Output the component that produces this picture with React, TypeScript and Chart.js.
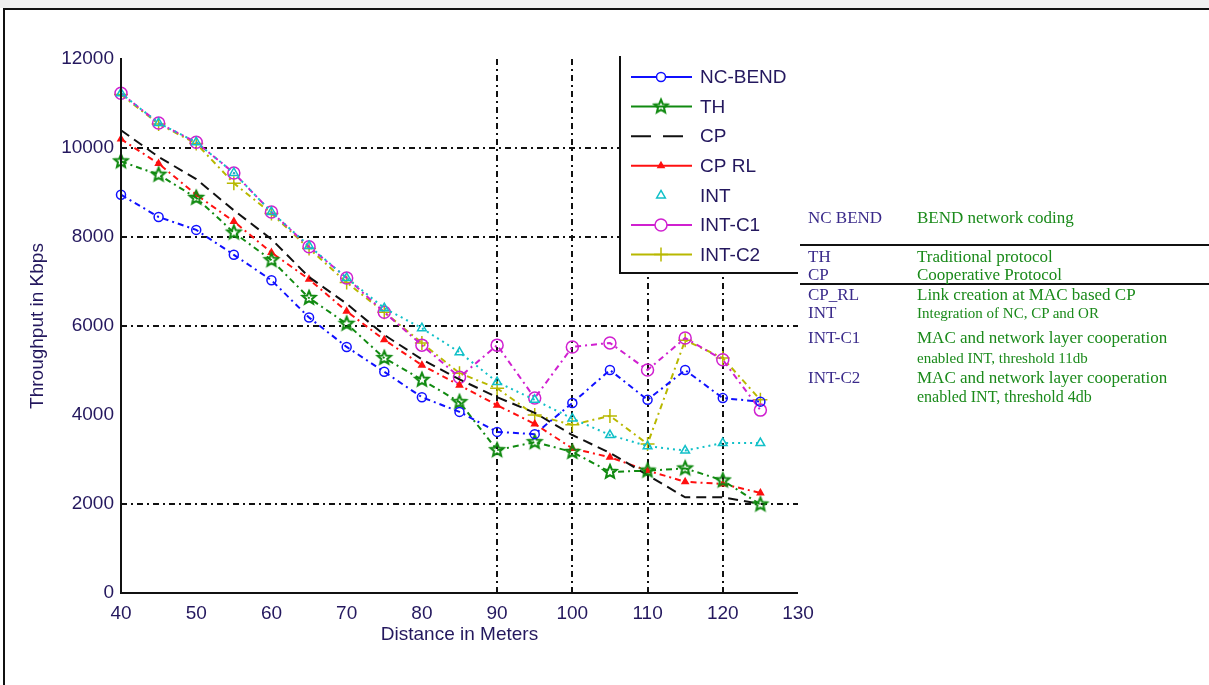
import React, { useEffect, useRef } from 'react';
import { Chart, registerables } from 'chart.js';
import { drawPoint } from 'chart.js/helpers';

Chart.register(...registerables);

// ---------------- data ----------------
const distances = [40, 45, 50, 55, 60, 65, 70, 75, 80, 85, 90, 95, 100, 105, 110, 115, 120, 125];

const ncBend = [8950, 8450, 8160, 7600, 7030, 6190, 5530, 4970, 4400, 4070, 3620, 3570, 4270, 5010, 4340, 5010, 4380, 4300];
const th = [9700, 9400, 8880, 8100, 7480, 6630, 6050, 5280, 4790, 4290, 3210, 3390, 3170, 2720, 2750, 2800, 2530, 1990];
const cp = [10400, 9800, 9300, 8600, 7950, 7100, 6500, 5800, 5250, 4800, 4400, 4050, 3550, 3150, 2650, 2150, 2150, 2000];
const cpRl = [10200, 9650, 8950, 8350, 7650, 7050, 6330, 5690, 5120, 4670, 4220, 3800, 3250, 3050, 2750, 2500, 2450, 2250];
const intS = [11230, 10560, 10130, 9440, 8560, 7800, 7080, 6400, 5950, 5410, 4740, 4340, 3920, 3550, 3300, 3200, 3370, 3370];
const intC1 = [11230, 10560, 10130, 9440, 8560, 7780, 7080, 6310, 5570, 4850, 5570, 4380, 5530, 5620, 5010, 5730, 5240, 4110];
const intC2 = [11200, 10540, 10100, 9210, 8530, 7740, 6980, 6310, 5620, 4940, 4600, 4000, 3780, 3980, 3350, 5680, 5280, 4340];

const seriesNames = ['NC-BEND', 'TH', 'CP', 'CP RL', 'INT', 'INT-C1', 'INT-C2'];
const seriesValues = [ncBend, th, cp, cpRl, intS, intC1, intC2];

const xTickValues = [40, 50, 60, 70, 80, 90, 100, 110, 120, 130];
const yTickValues = [0, 2000, 4000, 6000, 8000, 10000, 12000];
const gridXValues = [90, 100, 110, 120];
const gridYValues = [2000, 6000, 8000, 10000];

const xTitle = 'Distance in Meters';
const yTitle = 'Throughput in Kbps';

const tableAbbr = ['NC BEND', 'TH', 'CP', 'CP_RL', 'INT', 'INT-C1', '', 'INT-C2', ''];
const tableDesc = [
  'BEND network coding',
  'Traditional protocol',
  'Cooperative Protocol',
  'Link creation at MAC based CP',
  'Integration of NC, CP and OR',
  'MAC and network layer cooperation',
  'enabled INT, threshold 11db',
  'MAC and network layer cooperation',
  'enabled INT, threshold 4db',
];

// ---------------- styles ----------------
const TEXT = '#24185e';
const FONT = '"Liberation Sans", Arial, sans-serif';
const DASHDOT = [6, 4, 2, 4];

function makeStar(color: string, r: number, lw: number) {
  const c = document.createElement('canvas');
  const s = Math.ceil(2 * r + lw * 2 + 2);
  c.width = s;
  c.height = s;
  const g = c.getContext('2d')!;
  g.strokeStyle = color;
  g.lineWidth = lw;
  g.beginPath();
  for (let i = 0; i < 10; i++) {
    const rr = i % 2 === 0 ? r : r * 0.45;
    const a = -Math.PI / 2 + (i * Math.PI) / 5;
    const x = s / 2 + rr * Math.cos(a);
    const y = s / 2 + rr * Math.sin(a);
    if (i === 0) g.moveTo(x, y);
    else g.lineTo(x, y);
  }
  g.closePath();
  g.stroke();
  return c;
}

type Style = {
  color: string;
  dash: number[];
  point: any;
  radius: number;
  fill: string;
  legendLine: boolean;
  legendDash: number[];
};

function buildStyles(): Style[] {
  return [
    { color: '#1010ff', dash: DASHDOT, point: 'circle', radius: 4.5, fill: 'rgba(0,0,0,0)', legendLine: true, legendDash: [] },
    { color: '#108a10', dash: DASHDOT, point: makeStar('#108a10', 7, 2), radius: 7, fill: 'rgba(0,0,0,0)', legendLine: true, legendDash: [] },
    { color: '#111111', dash: [10, 6], point: false, radius: 0, fill: '#111111', legendLine: true, legendDash: [20, 12] },
    { color: '#ff1010', dash: DASHDOT, point: 'triangle', radius: 3.5, fill: '#ff1010', legendLine: true, legendDash: [] },
    { color: '#10c0c8', dash: [2, 4], point: 'triangle', radius: 5, fill: 'rgba(0,0,0,0)', legendLine: false, legendDash: [] },
    { color: '#d020d0', dash: DASHDOT, point: 'circle', radius: 6, fill: 'rgba(0,0,0,0)', legendLine: true, legendDash: [] },
    { color: '#b8b800', dash: DASHDOT, point: 'cross', radius: 7, fill: 'rgba(0,0,0,0)', legendLine: true, legendDash: [] },
  ];
}

export default function App() {
  const ref = useRef<HTMLCanvasElement>(null);

  useEffect(() => {
    if (!ref.current) return;
    const styles = buildStyles();

    const decor = {
      id: 'decor',
      beforeDatasetsDraw(chart: any) {
        const { ctx, chartArea } = chart;
        const xs = chart.scales.x;
        const ys = chart.scales.y;
        ctx.save();
        ctx.strokeStyle = '#111';
        ctx.lineWidth = 2;
        ctx.setLineDash([6, 4, 2, 4]);
        gridYValues.forEach((v) => {
          const y = Math.round(ys.getPixelForValue(v));
          ctx.beginPath();
          ctx.moveTo(chartArea.left, y);
          ctx.lineTo(chartArea.right, y);
          ctx.stroke();
        });
        gridXValues.forEach((v) => {
          const x = Math.round(xs.getPixelForValue(v));
          ctx.beginPath();
          ctx.moveTo(x, chartArea.top);
          ctx.lineTo(x, chartArea.bottom);
          ctx.stroke();
        });
        ctx.restore();
      },
      afterDatasetsDraw(chart: any) {
        const { ctx, chartArea } = chart;
        ctx.save();
        // axes
        ctx.strokeStyle = '#111';
        ctx.lineWidth = 2;
        ctx.setLineDash([]);
        ctx.beginPath();
        ctx.moveTo(chartArea.left, chartArea.top - 1);
        ctx.lineTo(chartArea.left, chartArea.bottom);
        ctx.lineTo(chartArea.right, chartArea.bottom);
        ctx.stroke();

        // legend box
        const lx = 620;
        const ly = 56;
        const lr = chartArea.right;
        const lb = 273;
        ctx.fillStyle = '#ffffff';
        ctx.fillRect(lx, ly, lr - lx, lb - ly);
        ctx.beginPath();
        ctx.moveTo(lx, ly);
        ctx.lineTo(lx, lb);
        ctx.lineTo(lr, lb);
        ctx.stroke();

        const rowY0 = 77;
        const rowStep = 29.6;
        ctx.font = `19px ${FONT}`;
        ctx.textBaseline = 'middle';
        ctx.textAlign = 'left';
        seriesNames.forEach((name, i) => {
          const st = styles[i];
          const y = rowY0 + i * rowStep;
          if (st.legendLine) {
            ctx.strokeStyle = st.color;
            ctx.lineWidth = 2;
            ctx.setLineDash(st.legendDash);
            ctx.beginPath();
            ctx.moveTo(631, y);
            ctx.lineTo(692, y);
            ctx.stroke();
            ctx.setLineDash([]);
          }
          if (st.point) {
            if (st.point instanceof HTMLCanvasElement) {
              ctx.drawImage(st.point, 661 - st.point.width / 2, y - st.point.height / 2);
            } else {
              ctx.strokeStyle = st.color;
              ctx.fillStyle = st.legendLine ? '#ffffff' : 'rgba(0,0,0,0)';
              if (st.fill !== 'rgba(0,0,0,0)') ctx.fillStyle = st.fill;
              ctx.lineWidth = 1.5;
              drawPoint(ctx, { pointStyle: st.point, radius: st.radius, rotation: 0, borderWidth: 1.5 } as any, 661, y);
            }
          }
          ctx.fillStyle = TEXT;
          ctx.fillText(name, 700, y + 1);
        });
        ctx.restore();
      },
    };

    const chart = new Chart(ref.current, {
      type: 'line',
      data: {
        datasets: seriesValues.map((vals, i) => {
          const st = styles[i];
          return {
            label: seriesNames[i],
            data: distances.map((d, j) => ({ x: d, y: vals[j] })),
            borderColor: st.color,
            backgroundColor: st.fill,
            borderWidth: 2,
            borderDash: st.dash,
            pointStyle: st.point,
            pointRadius: st.radius,
            pointBorderWidth: 1.5,
            pointBorderColor: st.color,
            pointBackgroundColor: st.fill,
            tension: 0,
            fill: false,
            clip: false as any,
          };
        }),
      },
      options: {
        animation: false,
        responsive: false,
        events: [],
        layout: { padding: { left: 0, top: 59, right: 1209 - 798, bottom: 0 } },
        plugins: { legend: { display: false }, tooltip: { enabled: false } },
        scales: {
          x: {
            type: 'linear',
            min: 40,
            max: 130,
            afterBuildTicks: (s: any) => {
              s.ticks = xTickValues.map((v) => ({ value: v }));
            },
            afterFit: (s: any) => {
              s.height = 685 - 593;
            },
            grid: { display: false, drawTicks: false },
            border: { display: false },
            ticks: {
              color: TEXT,
              font: { family: FONT, size: 19 },
              padding: 9,
              maxRotation: 0,
              autoSkip: false,
              callback: (v: any) => String(v),
            },
            title: {
              display: true,
              text: xTitle,
              color: TEXT,
              font: { family: FONT, size: 19 },
              padding: { top: 0, bottom: 39 },
            },
          },
          y: {
            type: 'linear',
            min: 0,
            max: 12000,
            afterBuildTicks: (s: any) => {
              s.ticks = yTickValues.map((v) => ({ value: v }));
            },
            afterFit: (s: any) => {
              s.width = 121;
            },
            grid: { display: false, drawTicks: false },
            border: { display: false },
            ticks: {
              color: TEXT,
              font: { family: FONT, size: 19 },
              padding: 7,
              autoSkip: false,
              callback: (v: any) => String(v),
            },
            title: {
              display: true,
              text: yTitle,
              color: TEXT,
              font: { family: FONT, size: 19 },
              padding: { top: 26, bottom: 0 },
            },
          },
        },
      },
      plugins: [decor],
    } as any);

    return () => chart.destroy();
  }, []);

  const rowYs = [218, 257, 275, 295, 313, 338, 358, 378, 397];
  const descSizes = [17, 17, 17, 17, 15, 17, 15, 17, 16];

  return (
    <div style={{ position: 'absolute', left: 0, top: 0, width: 1209, height: 685, overflow: 'hidden', background: '#fff' }}>
      <div style={{ position: 'absolute', left: 0, top: 0, width: 1209, height: 8, background: '#f0f0f0' }} />
      <div
        style={{
          position: 'absolute',
          left: 3,
          top: 8,
          width: 1220,
          height: 700,
          borderTop: '2px solid #111',
          borderLeft: '2px solid #111',
        }}
      />
      <canvas ref={ref} width={1209} height={685} style={{ position: 'absolute', left: 0, top: 0, width: 1209, height: 685 }} />
      <div style={{ position: 'absolute', left: 800, top: 244, width: 409, height: 2, background: '#111' }} />
      <div style={{ position: 'absolute', left: 800, top: 283, width: 409, height: 2, background: '#111' }} />
      {tableAbbr.map((a, i) => (
        <div
          key={'a' + i}
          style={{
            position: 'absolute',
            left: 808,
            top: rowYs[i] - 11,
            height: 22,
            lineHeight: '22px',
            fontFamily: '"Liberation Serif", "Times New Roman", serif',
            fontSize: 17,
            color: '#3a2a8a',
            whiteSpace: 'nowrap',
          }}
        >
          {a}
        </div>
      ))}
      {tableDesc.map((d, i) => (
        <div
          key={'d' + i}
          style={{
            position: 'absolute',
            left: 917,
            top: rowYs[i] - 11,
            height: 22,
            lineHeight: '22px',
            fontFamily: '"Liberation Serif", "Times New Roman", serif',
            fontSize: descSizes[i],
            color: '#1a8a1a',
            whiteSpace: 'nowrap',
          }}
        >
          {d}
        </div>
      ))}
    </div>
  );
}
